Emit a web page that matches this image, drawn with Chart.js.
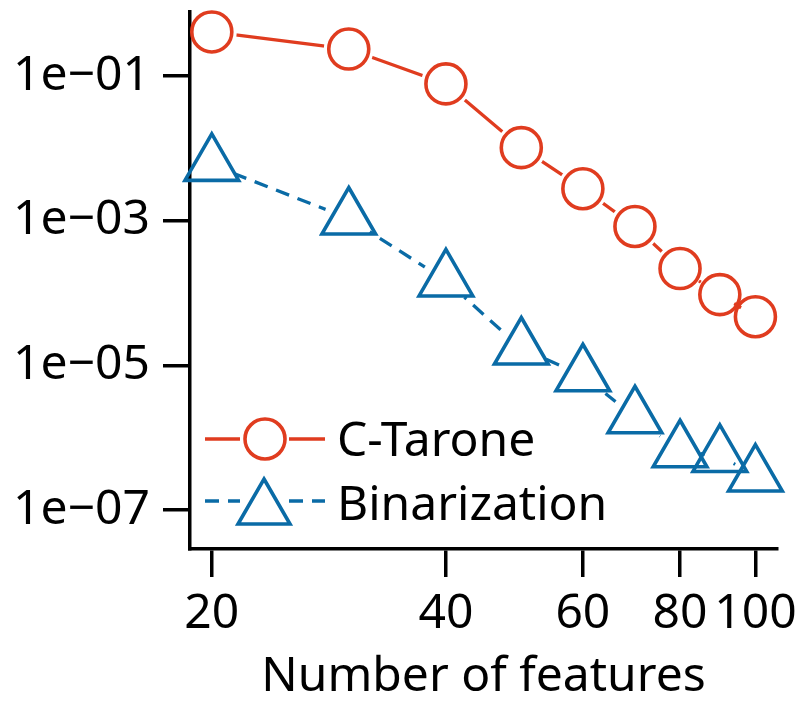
<!DOCTYPE html>
<html>
<head>
<meta charset="utf-8">
<script src="https://cdn.jsdelivr.net/npm/chart.js@4.4.1/dist/chart.umd.min.js"></script>
<style>
  html, body { margin: 0; padding: 0; background: #fff; }
</style>
</head>
<body>
<canvas id="chart" width="806" height="701"></canvas>
<script>
// values
var features = [20, 30, 40, 50, 60, 70, 80, 90, 100];
var ctarone = [0.405, 0.235, 0.0776, 0.0102, 0.00276, 8.3e-4, 2.18e-4, 9.5e-5, 4.7e-5];
var binarization = [5.9e-3, 1.07e-3, 1.49e-4, 1.71e-5, 7.3e-6, 1.92e-6, 6.5e-7, 5.6e-7, 3.0e-7];
var xTicks = [20, 40, 60, 80, 100];
var yTicks = [1e-7, 1e-5, 1e-3, 1e-1];
var yTickLabels = ['1e\u221207', '1e\u221205', '1e\u221203', '1e\u221201'];

var red = '#E03C1F';
var blue = '#0A6BA6';
var font = '"Noto Sans", "Open Sans", sans-serif';

function pts(ys) {
  return features.map(function (x, i) { return { x: x, y: ys[i] }; });
}

// line gaps round the markers, like type="b"
var gapPlugin = {
  id: 'gap',
  beforeDatasetDraw: function (chart, args) {
    var ds = chart.data.datasets[args.index];
    if (ds.gapOf === undefined) return;
    var marks = chart.getDatasetMeta(ds.gapOf).data;
    var ctx = chart.ctx;
    ctx.save();
    ctx.beginPath();
    ctx.rect(0, 0, chart.width, chart.height);
    marks.forEach(function (p) {
      ctx.moveTo(p.x + 25, p.y);
      ctx.arc(p.x, p.y, 25, 0, Math.PI * 2);
    });
    ctx.clip('evenodd');
  },
  afterDatasetDraw: function (chart, args) {
    var ds = chart.data.datasets[args.index];
    if (ds.gapOf === undefined) return;
    chart.ctx.restore();
  }
};

// legend inside the plot
var legendPlugin = {
  id: 'innerLegend',
  afterDraw: function (chart) {
    var ctx = chart.ctx;
    var rows = [
      { ds: chart.data.datasets[1], line: chart.data.datasets[0], y: 439, my: 439, ty: 456 },
      { ds: chart.data.datasets[3], line: chart.data.datasets[2], y: 501, my: 509, ty: 520 }
    ];
    ctx.save();
    rows.forEach(function (r) {
      ctx.strokeStyle = r.line.borderColor;
      ctx.lineWidth = r.line.borderWidth;
      ctx.setLineDash(r.line.borderDash || []);
      ctx.beginPath();
      ctx.moveTo(205, r.y); ctx.lineTo(240, r.y);
      ctx.moveTo(289, r.y); ctx.lineTo(325, r.y);
      ctx.stroke();
      ctx.setLineDash([]);
      ctx.strokeStyle = r.ds.pointBorderColor;
      ctx.lineWidth = r.ds.pointBorderWidth;
      ctx.beginPath();
      if (r.ds.pointStyle === 'triangle') {
        var rad = r.ds.pointRadius - 1;
        for (var k = 0; k < 3; k++) {
          var a = k * 2 * Math.PI / 3;
          var px = 264 + Math.sin(a) * rad, py = r.my - Math.cos(a) * rad;
          if (k === 0) ctx.moveTo(px, py); else ctx.lineTo(px, py);
        }
        ctx.closePath();
      } else {
        ctx.arc(265, r.my, r.ds.pointRadius, 0, Math.PI * 2);
      }
      ctx.stroke();
      ctx.fillStyle = '#000';
      ctx.font = '48px ' + font;
      ctx.textBaseline = 'alphabetic';
      ctx.textAlign = 'left';
      ctx.fillText(r.ds.label, 337, r.ty);
    });
    ctx.restore();
  }
};

new Chart(document.getElementById('chart'), {
  type: 'line',
  data: {
    datasets: [
      { label: 'C-Tarone', data: pts(ctarone), gapOf: 1, borderColor: red, borderWidth: 3.3,
        pointRadius: 0, fill: false },
      { label: 'C-Tarone', data: pts(ctarone), showLine: false, pointStyle: 'circle', clip: false,
        pointRadius: 20, pointBorderWidth: 3.6, pointBorderColor: red,
        pointBackgroundColor: 'rgba(0,0,0,0)' },
      { label: 'Binarization', data: pts(binarization), gapOf: 3, borderColor: blue, borderWidth: 3.3,
        borderDash: [14, 9], pointRadius: 0, fill: false },
      { label: 'Binarization', data: pts(binarization), showLine: false, pointStyle: 'triangle', clip: false,
        pointRadius: 31, pointBorderWidth: 3.6, pointBorderColor: blue,
        pointBackgroundColor: 'rgba(0,0,0,0)' }
    ]
  },
  options: {
    responsive: false,
    animation: false,
    layout: { autoPadding: false, padding: { left: 0, right: 29, top: 12, bottom: 0 } },
    plugins: { legend: { display: false }, tooltip: { enabled: false } },
    scales: {
      x: {
        type: 'logarithmic',
        min: 18.75,
        max: 106.6,
        bounds: 'data',
        afterBuildTicks: function (s) { s.ticks = xTicks.map(function (v) { return { value: v }; }); },
        afterFit: function (s) { s.height = 152; s.paddingLeft = 0; s.paddingRight = 0; },
        border: { display: true, color: '#000', width: 3.5 },
        grid: { drawOnChartArea: false, drawTicks: true, tickLength: 28, color: '#000', lineWidth: 3.5, tickWidth: 3.5 },
        ticks: {
          autoSkip: false, maxRotation: 0, minRotation: 0, padding: 9, color: '#000',
          font: { family: font, size: 48 },
          callback: function (v) { return String(v); }
        },
        title: { display: true, text: 'Number of features', color: '#000',
          font: { family: font, size: 48, lineHeight: 1.05 }, padding: { top: 0, bottom: -2 } }
      },
      y: {
        type: 'logarithmic',
        min: 2.9e-8,
        max: 0.764,
        bounds: 'data',
        afterBuildTicks: function (s) { s.ticks = yTicks.map(function (v) { return { value: v }; }); },
        afterFit: function (s) { s.width = 190; s.paddingTop = 0; s.paddingBottom = 0; },
        border: { display: true, color: '#000', width: 3.5 },
        grid: { drawOnChartArea: false, drawTicks: true, tickLength: 27, color: '#000', lineWidth: 3.5, tickWidth: 3.5 },
        ticks: {
          autoSkip: false, padding: 13, color: '#000',
          font: { family: font, size: 48 },
          callback: function (v) { return yTickLabels[yTicks.indexOf(v)]; }
        }
      }
    }
  },
  plugins: [gapPlugin, legendPlugin]
});
</script>
</body>
</html>
